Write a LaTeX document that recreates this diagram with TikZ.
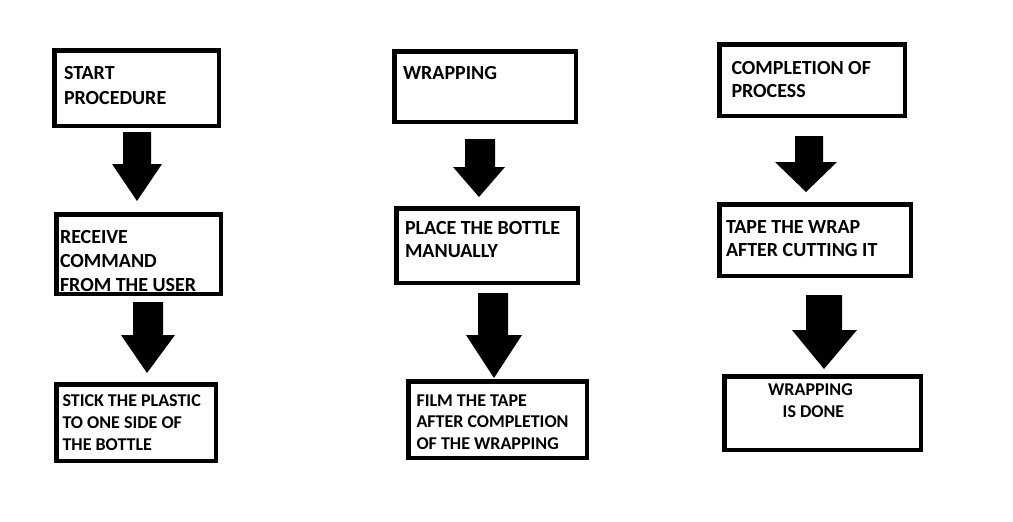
\documentclass[tikz,border=0pt]{standalone}
\usepackage{fontspec}
\setmainfont{Carlito}
\begin{document}
\begin{tikzpicture}[x=1pt,y=-1pt,
  box/.style={draw=black,line width=4.5pt,rectangle,inner sep=0pt,outer sep=0pt,fill=white},
  lbl/.style={anchor=north west,inner sep=0pt,outer sep=0pt,align=left,text=black},
  big/.style={font={\fontsize{20}{24}\selectfont\bfseries}},
  small/.style={font={\fontsize{18}{21.7}\selectfont\bfseries}}]
\useasboundingbox[fill=white] (0,0) rectangle (1013,522);
\newcommand\blkarrow[8]{\fill[black] (#1,#3) -- (#2,#3) -- (#2,#6) -- (#5,#6) -- (#7,#8) -- (#4,#6) -- (#1,#6) -- cycle;}
% column 1
\node[box,minimum width=164.5pt,minimum height=75.5pt] (b1) at (136.5,88) {};
\node[box,minimum width=164.5pt,minimum height=79.5pt] (b2) at (138.5,254) {};
\node[box,minimum width=159.5pt,minimum height=76.5pt] (b3) at (136,422.5) {};
% column 2
\node[box,minimum width=181.5pt,minimum height=70.5pt] (b4) at (485,86.5) {};
\node[box,minimum width=181.5pt,minimum height=74.5pt] (b5) at (487,245.5) {};
\node[box,minimum width=178.5pt,minimum height=76.5pt] (b6) at (497.5,419.5) {};
% column 3
\node[box,minimum width=185.5pt,minimum height=71.5pt] (b7) at (812,80) {};
\node[box,minimum width=191.5pt,minimum height=71.5pt] (b8) at (815,240) {};
\node[box,minimum width=196.5pt,minimum height=73.5pt] (b9) at (822.5,413) {};
% texts
\node[lbl,big,font={\fontsize{20}{24.5}\selectfont\bfseries}] (t1) at (64,66.7) {START\\PROCEDURE};
\node[lbl,big] (t2) at (60,230) {RECEIVE\\COMMAND\\FROM THE USER};
\node[lbl,small] (t3) at (62.5,395) {STICK THE PLASTIC\\TO ONE SIDE OF\\THE BOTTLE};
\node[lbl,big] (t4) at (403,66) {WRAPPING};
\node[lbl,big,font={\fontsize{20}{23}\selectfont\bfseries}] (t5) at (405,221) {PLACE THE BOTTLE\\MANUALLY};
\node[lbl,small] (t6) at (416.5,394.5) {FILM THE TAPE\\AFTER COMPLETION\\OF THE WRAPPING};
\node[lbl,big,font={\fontsize{20}{23.3}\selectfont\bfseries}] (t7) at (731.5,61.5) {COMPLETION OF\\PROCESS};
\node[lbl,big,font={\fontsize{20}{22.8}\selectfont\bfseries}] (t8) at (726,220.5) {TAPE THE WRAP\\AFTER CUTTING IT};
\node[lbl,small,anchor=north,align=center,font={\fontsize{18}{21.5}\selectfont\bfseries}] (t9) at (810.5,384) {WRAPPING\\\hspace*{6pt}IS DONE};
% block arrows
\blkarrow{123}{151}{132}{112}{162}{164}{137}{201}
\blkarrow{133}{163}{302}{121}{175}{335}{147}{373}
\blkarrow{465}{495}{139}{453}{505}{167}{479}{197}
\blkarrow{478}{508}{293}{466}{522}{335}{494}{378}
\blkarrow{795}{823}{136}{775}{837}{162}{806}{192}
\blkarrow{806}{842}{295}{792}{857}{330}{824}{369}
\end{tikzpicture}
\end{document}
